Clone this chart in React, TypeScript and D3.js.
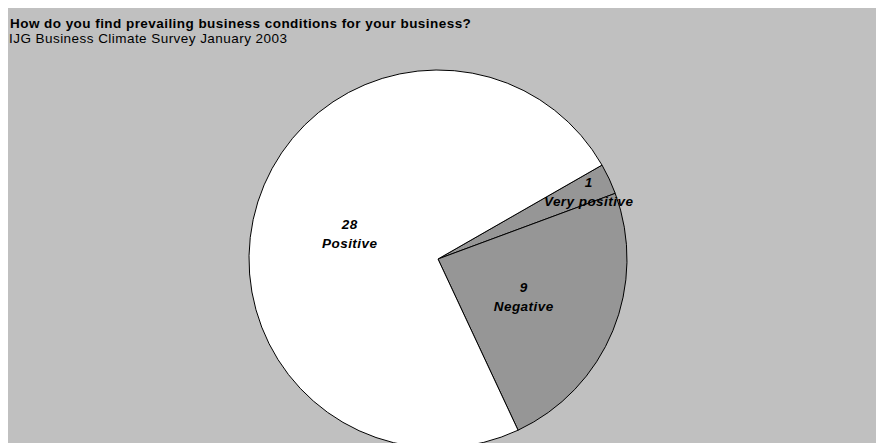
import React from "react";
import * as d3 from "d3";

const categories = ["Very positive", "Negative", "Positive"];
const values = [1, 9, 28];
const colors = ["#969696", "#969696", "#ffffff"];
const title = "How do you find prevailing business conditions for your business?";
const subtitle = "IJG Business Climate Survey January 2003";

export default function App() {
  const width = 876;
  const height = 435;
  const cx = 430;
  const cy = 251;
  const r = 189;
  const startDeg = 60.2;
  const total = d3.sum(values);
  const pie = d3
    .pie<number>()
    .sort(null)
    .startAngle((startDeg * Math.PI) / 180)
    .endAngle(((startDeg + 360) * Math.PI) / 180);
  const arcs = pie(values);
  const arc = d3.arc<d3.PieArcDatum<number>>().innerRadius(0).outerRadius(r);
  const font = "Arial, 'Liberation Sans', sans-serif";
  return (
    <svg width={width} height={height} style={{ display: "block" }}>
      <rect x={0} y={0} width={width} height={height} fill="#c0c0c0" />
      <text x={2} y={20} fontFamily={font} fontSize={13.5} letterSpacing={0.45} fontWeight="bold" fill="#000">
        {title}
      </text>
      <text x={1} y={35} fontFamily={font} fontSize={13.5} letterSpacing={0.45} fill="#000">
        {subtitle}
      </text>
      <g transform={`translate(${cx},${cy})`}>
        {arcs.map((a, i) => (
          <path key={i} d={arc(a) || ""} fill={colors[i]} stroke="#000" strokeWidth={1} />
        ))}
        {arcs.map((a, i) => {
          const frac = values[i] / total;
          const lr = frac < 0.05 ? r * 0.88 : r * 0.49;
          const mid = (a.startAngle + a.endAngle) / 2;
          const x = lr * Math.sin(mid);
          const y = -lr * Math.cos(mid);
          return (
            <text
              key={"l" + i}
              x={x}
              y={y}
              textAnchor="middle"
              fontFamily={font}
              fontSize={13.5}
              letterSpacing={0.45}
              fontWeight="bold"
              fontStyle="italic"
              fill="#000"
            >
              <tspan x={x} dy={-2}>{values[i]}</tspan>
              <tspan x={x} dy={19}>{categories[i]}</tspan>
            </text>
          );
        })}
      </g>
    </svg>
  );
}
